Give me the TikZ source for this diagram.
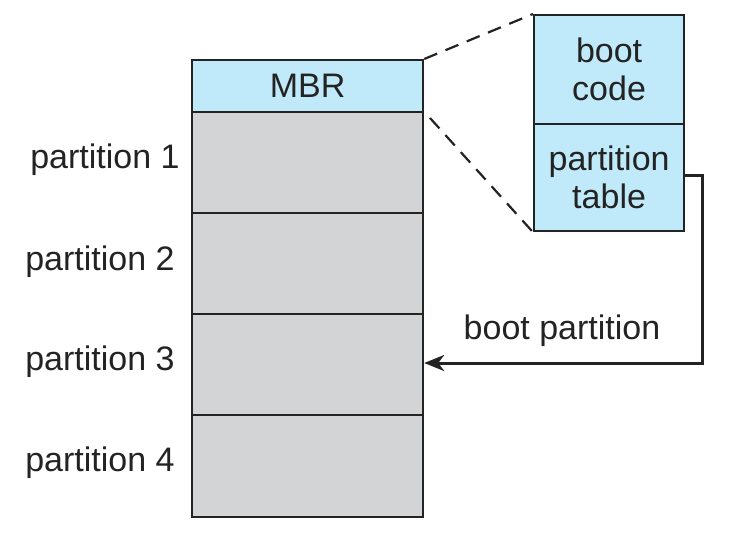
\documentclass[tikz,border=0pt]{standalone}
\usepackage{fontspec}
\setmainfont{Liberation Sans}
\usetikzlibrary{arrows.meta}
\definecolor{mbrblue}{RGB}{192,234,249}
\definecolor{partgray}{RGB}{211,212,214}
\definecolor{ink}{RGB}{35,35,35}
\begin{document}
\begin{tikzpicture}[x=1pt,y=-1pt,
  cell/.style={draw=ink,line width=2.2pt,anchor=north west,inner sep=0pt,
    minimum width=231pt,font=\fontsize{34}{38}\selectfont,text=ink},
  bluecell/.style={cell,fill=mbrblue},
  graycell/.style={cell,fill=partgray,minimum height=101pt},
  rbox/.style={cell,fill=mbrblue,minimum width=150pt,align=center},
  lbl/.style={font=\fontsize{34}{38}\selectfont,text=ink},
  dashline/.style={draw=ink,line width=2.2pt,dash pattern=on 14pt off 9pt}]
\useasboundingbox (0,0) rectangle (731,533);
\node[bluecell,minimum height=52pt] (mbr) at (191,59) {MBR};
\node[graycell] (p1) at (191,111) {};
\node[graycell] (p2) at (191,212) {};
\node[graycell] (p3) at (191,313) {};
\node[graycell,minimum height=102pt] (p4) at (191,414) {};
\node[lbl] (l1) at (105,160) {partition 1};
\node[lbl] (l2) at (100,262) {partition 2};
\node[lbl] (l3) at (100,362) {partition 3};
\node[lbl] (l4) at (100,463) {partition 4};
\node[rbox,minimum height=109pt] (bc) at (533,14) {boot\\code};
\node[rbox,minimum height=107pt] (pt) at (533,123) {partition\\table};
\draw[dashline] (mbr.north east) -- (bc.north west);
\coordinate (d1) at (430,118);
\draw[dashline] (d1) -- (pt.south west);
\coordinate (c1) at (702,175);
\coordinate (c2) at (702,363);
\coordinate (tgt) at (p3.east |- c2);
\draw[ink,line width=3pt,-{Stealth[length=20pt,width=16pt,inset=6pt]}] (pt.east |- c1) -- (c1) -- (c2) -- (tgt);
\node[lbl] (bp) at (562,331) {boot partition};
\end{tikzpicture}
\end{document}
